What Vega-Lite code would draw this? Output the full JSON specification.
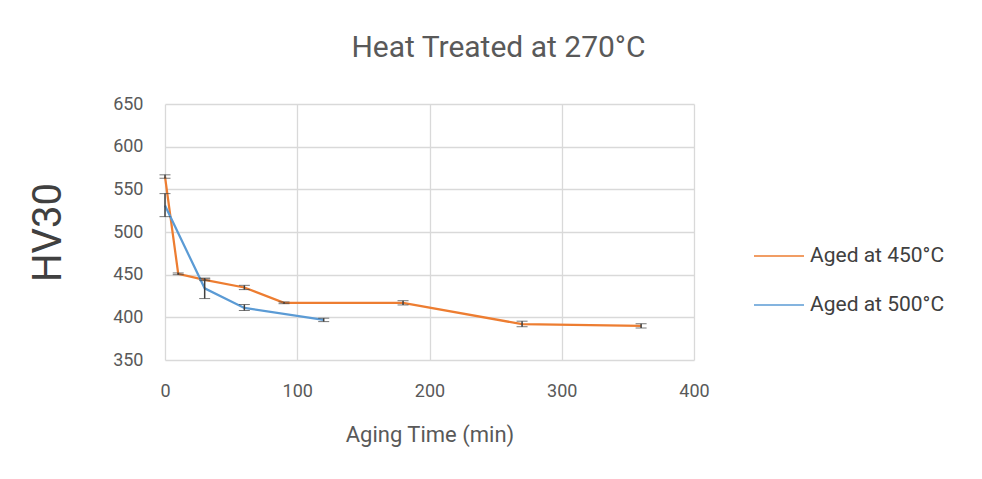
{
  "$schema": "https://vega.github.io/schema/vega-lite/v6.json",
  "width": 529,
  "height": 256,
  "autosize": {"type": "none"},
  "padding": {"left": 165, "top": 104, "right": 288, "bottom": 119},
  "background": "white",
  "config": {
    "font": "Roboto, sans-serif",
    "view": {"stroke": null}
  },
  "title": {
    "text": "Heat Treated at 270°C",
    "fontSize": 30,
    "fontWeight": "normal",
    "color": "#595959",
    "anchor": "middle",
    "dx": 69,
    "offset": 32
  },
  "data": {
    "values": [
      {"series": "Aged at 450°C", "time": 0, "hv": 565, "lo": 563, "hi": 567},
      {"series": "Aged at 450°C", "time": 10, "hv": 451, "lo": 450, "hi": 452},
      {"series": "Aged at 450°C", "time": 30, "hv": 444, "lo": 443, "hi": 445},
      {"series": "Aged at 450°C", "time": 60, "hv": 435, "lo": 432.5, "hi": 437.5},
      {"series": "Aged at 450°C", "time": 90, "hv": 417, "lo": 416, "hi": 418},
      {"series": "Aged at 450°C", "time": 180, "hv": 417, "lo": 414.5, "hi": 419.5},
      {"series": "Aged at 450°C", "time": 270, "hv": 392, "lo": 389, "hi": 395.5},
      {"series": "Aged at 450°C", "time": 360, "hv": 390, "lo": 387.5, "hi": 392.5},
      {"series": "Aged at 500°C", "time": 0, "hv": 531, "lo": 518, "hi": 545},
      {"series": "Aged at 500°C", "time": 30, "hv": 434, "lo": 422, "hi": 446},
      {"series": "Aged at 500°C", "time": 60, "hv": 411, "lo": 408, "hi": 415},
      {"series": "Aged at 500°C", "time": 120, "hv": 397, "lo": 395, "hi": 399}
    ]
  },
  "layer": [
    {
      "mark": {"type": "line", "strokeWidth": 2.25},
      "encoding": {
        "x": {
          "field": "time", "type": "quantitative",
          "scale": {"domain": [0, 400], "nice": false},
          "axis": {
            "values": [0, 100, 200, 300, 400],
            "title": "Aging Time (min)",
            "titleFontSize": 22, "titleFontWeight": "normal", "titleColor": "#595959",
            "titlePadding": 24,
            "labelFontSize": 18, "labelColor": "#595959", "labelPadding": 22,
            "labelFlush": false,
            "ticks": false, "domain": false,
            "gridColor": "#d9d9d9", "gridWidth": 1.3
          }
        },
        "y": {
          "field": "hv", "type": "quantitative",
          "scale": {"domain": [350, 650], "nice": false, "zero": false},
          "axis": {
            "values": [350, 400, 450, 500, 550, 600, 650],
            "title": "HV30",
            "titleFontSize": 40, "titleFontWeight": "normal", "titleColor": "#404040",
            "titlePadding": 44,
            "labelFontSize": 18, "labelColor": "#595959", "labelPadding": 22,
            "labelFlush": false,
            "ticks": false, "domain": false,
            "gridColor": "#d9d9d9", "gridWidth": 1.3
          }
        },
        "color": {
          "field": "series", "type": "nominal",
          "scale": {"domain": ["Aged at 450°C", "Aged at 500°C"], "range": ["#ED7D31", "#5B9BD5"]},
          "legend": {
            "title": null,
            "orient": "none",
            "legendX": 588,
            "legendY": 126,
            "symbolType": "stroke",
            "symbolSize": 2500,
            "symbolStrokeWidth": 1.5,
            "labelFontSize": 21,
            "labelColor": "#404040",
            "labelOffset": 5,
            "rowPadding": 13
          }
        }
      }
    },
    {
      "mark": {"type": "errorbar", "ticks": {"size": 11, "color": "#3f3f3f", "strokeWidth": 1.5}, "rule": {"color": "#3f3f3f", "strokeWidth": 1.5}},
      "encoding": {
        "x": {"field": "time", "type": "quantitative"},
        "y": {"field": "lo", "type": "quantitative", "title": "HV30"},
        "y2": {"field": "hi"}
      }
    }
  ]
}
